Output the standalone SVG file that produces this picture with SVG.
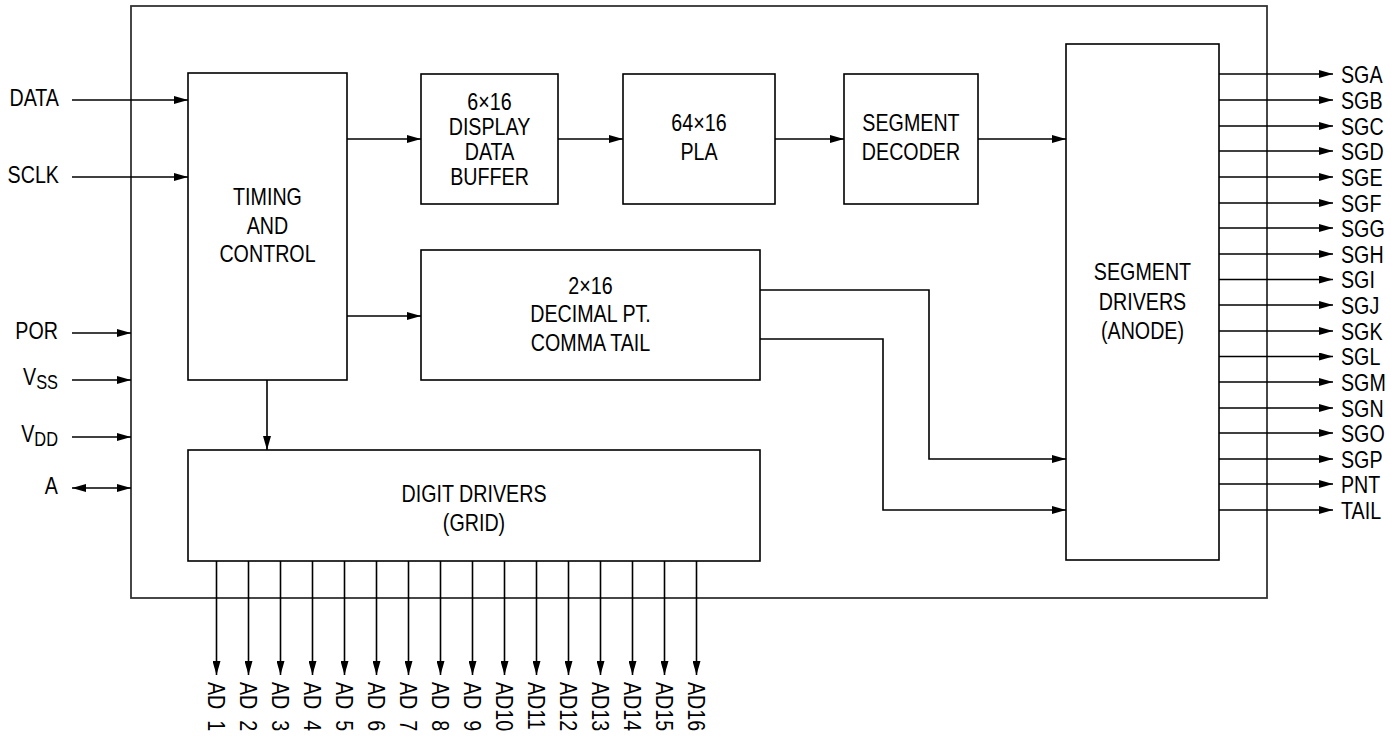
<svg xmlns="http://www.w3.org/2000/svg" width="1391" height="737" viewBox="0 0 1391 737">
<style>
.t{font-family:"Liberation Sans",Arial,sans-serif;font-size:24px;fill:#000}
.m{text-anchor:middle}
.e{text-anchor:end}
.b{fill:#fff;stroke:#000;stroke-width:1.6}
.w{fill:none;stroke:#000;stroke-width:1.6}
</style>
<defs>
<marker id="ah" markerUnits="userSpaceOnUse" markerWidth="14" markerHeight="8" refX="14" refY="4" orient="auto-start-reverse"><path d="M0,0 L14,4 L0,8 z" fill="#000"/></marker>
</defs>
<rect id="chip" x="131" y="6" width="1136" height="592" fill="none" stroke="#333" stroke-width="1.8"/>
<g id="timing"><rect class="b" x="188" y="73" width="159" height="307"/><text class="t m" transform="translate(267.5,205) scale(.82,1)">TIMING</text><text class="t m" transform="translate(267.5,233.5) scale(.82,1)">AND</text><text class="t m" transform="translate(267.5,262) scale(.82,1)">CONTROL</text></g>
<g id="buffer"><rect class="b" x="421" y="74" width="137" height="130"/><text class="t m" transform="translate(489.5,110) scale(.82,1)">6×16</text><text class="t m" transform="translate(489.5,135) scale(.82,1)">DISPLAY</text><text class="t m" transform="translate(489.5,160) scale(.82,1)">DATA</text><text class="t m" transform="translate(489.5,185) scale(.82,1)">BUFFER</text></g>
<g id="pla"><rect class="b" x="623" y="74" width="152" height="130"/><text class="t m" transform="translate(699,131) scale(.82,1)">64×16</text><text class="t m" transform="translate(699,160) scale(.82,1)">PLA</text></g>
<g id="decoder"><rect class="b" x="844" y="74" width="134" height="130"/><text class="t m" transform="translate(911,131) scale(.82,1)">SEGMENT</text><text class="t m" transform="translate(911,160) scale(.82,1)">DECODER</text></g>
<g id="decimal"><rect class="b" x="421" y="250" width="339" height="130"/><text class="t m" transform="translate(590.5,293.5) scale(.82,1)">2×16</text><text class="t m" transform="translate(590.5,322) scale(.82,1)">DECIMAL PT.</text><text class="t m" transform="translate(590.5,350.5) scale(.82,1)">COMMA TAIL</text></g>
<g id="digit"><rect class="b" x="188" y="450" width="572" height="111"/><text class="t m" transform="translate(474,502) scale(.82,1)">DIGIT DRIVERS</text><text class="t m" transform="translate(474,531) scale(.82,1)">(GRID)</text></g>
<g id="segdrv"><rect class="b" x="1066" y="44" width="153" height="516"/><text class="t m" transform="translate(1142.5,280) scale(.82,1)">SEGMENT</text><text class="t m" transform="translate(1142.5,309.5) scale(.82,1)">DRIVERS</text><text class="t m" transform="translate(1142.5,339) scale(.82,1)">(ANODE)</text></g>
<g id="inputs">
<text class="t e" transform="translate(59,106) scale(.82,1)">DATA</text>
<text class="t e" transform="translate(59,183) scale(.82,1)">SCLK</text>
<text class="t e" transform="translate(58,339) scale(.82,1)">POR</text>
<text class="t e" transform="translate(58,385) scale(.82,1)">V<tspan font-size="20" dy="4">SS</tspan></text>
<text class="t e" transform="translate(58,442) scale(.82,1)">V<tspan font-size="20" dy="4">DD</tspan></text>
<text class="t e" transform="translate(58,494) scale(.82,1)">A</text>
</g>
<g id="outputs">
<text class="t" transform="translate(1341,83) scale(.82,1)">SGA</text>
<text class="t" transform="translate(1341,108.5) scale(.82,1)">SGB</text>
<text class="t" transform="translate(1341,134.5) scale(.82,1)">SGC</text>
<text class="t" transform="translate(1341,159.5) scale(.82,1)">SGD</text>
<text class="t" transform="translate(1341,185.5) scale(.82,1)">SGE</text>
<text class="t" transform="translate(1341,211.5) scale(.82,1)">SGF</text>
<text class="t" transform="translate(1341,236.5) scale(.82,1)">SGG</text>
<text class="t" transform="translate(1341,262.5) scale(.82,1)">SGH</text>
<text class="t" transform="translate(1341,288) scale(.82,1)">SGI</text>
<text class="t" transform="translate(1341,313.5) scale(.82,1)">SGJ</text>
<text class="t" transform="translate(1341,339.5) scale(.82,1)">SGK</text>
<text class="t" transform="translate(1341,365) scale(.82,1)">SGL</text>
<text class="t" transform="translate(1341,390.5) scale(.82,1)">SGM</text>
<text class="t" transform="translate(1341,416.5) scale(.82,1)">SGN</text>
<text class="t" transform="translate(1341,441.5) scale(.82,1)">SGO</text>
<text class="t" transform="translate(1341,467.5) scale(.82,1)">SGP</text>
<text class="t" transform="translate(1341,492.5) scale(.82,1)">PNT</text>
<text class="t" transform="translate(1341,518.5) scale(.82,1)">TAIL</text>
</g>
<g id="adlabels">
<text class="t" transform="translate(216.5,682) rotate(90) scale(.82,1)" y="8.5">AD <tspan x="46.7">1</tspan></text>
<text class="t" transform="translate(248.5,682) rotate(90) scale(.82,1)" y="8.5">AD <tspan x="46.7">2</tspan></text>
<text class="t" transform="translate(280.5,682) rotate(90) scale(.82,1)" y="8.5">AD <tspan x="46.7">3</tspan></text>
<text class="t" transform="translate(312.5,682) rotate(90) scale(.82,1)" y="8.5">AD <tspan x="46.7">4</tspan></text>
<text class="t" transform="translate(344.5,682) rotate(90) scale(.82,1)" y="8.5">AD <tspan x="46.7">5</tspan></text>
<text class="t" transform="translate(376.5,682) rotate(90) scale(.82,1)" y="8.5">AD <tspan x="46.7">6</tspan></text>
<text class="t" transform="translate(408.5,682) rotate(90) scale(.82,1)" y="8.5">AD <tspan x="46.7">7</tspan></text>
<text class="t" transform="translate(440.5,682) rotate(90) scale(.82,1)" y="8.5">AD <tspan x="46.7">8</tspan></text>
<text class="t" transform="translate(472.5,682) rotate(90) scale(.82,1)" y="8.5">AD <tspan x="46.7">9</tspan></text>
<text class="t" transform="translate(504.5,682) rotate(90) scale(.82,1)" y="8.5">AD10</text>
<text class="t" transform="translate(536.5,682) rotate(90) scale(.82,1)" y="8.5">AD11</text>
<text class="t" transform="translate(568.5,682) rotate(90) scale(.82,1)" y="8.5">AD12</text>
<text class="t" transform="translate(600.5,682) rotate(90) scale(.82,1)" y="8.5">AD13</text>
<text class="t" transform="translate(632.5,682) rotate(90) scale(.82,1)" y="8.5">AD14</text>
<text class="t" transform="translate(664.5,682) rotate(90) scale(.82,1)" y="8.5">AD15</text>
<text class="t" transform="translate(696.5,682) rotate(90) scale(.82,1)" y="8.5">AD16</text>
</g>
<g id="connectors" class="w" marker-end="url(#ah)">
<path d="M72,100 H188"/>
<path d="M72,177 H188"/>
<path d="M72,333 H131"/>
<path d="M72,380 H131"/>
<path d="M72,437 H131"/>
<path d="M72,488 H131" marker-start="url(#ah)"/>
<path d="M347,139 H421"/>
<path d="M558,139 H623"/>
<path d="M775,139 H844"/>
<path d="M978,139 H1066"/>
<path d="M347,316 H421"/>
<path d="M267,380 V450"/>
<path d="M760,290 H929 V459 H1066"/>
<path d="M760,339 H883 V510 H1066"/>
<path d="M1219,74 H1333"/>
<path d="M1219,100 H1333"/>
<path d="M1219,126 H1333"/>
<path d="M1219,151 H1333"/>
<path d="M1219,177 H1333"/>
<path d="M1219,203 H1333"/>
<path d="M1219,228 H1333"/>
<path d="M1219,254 H1333"/>
<path d="M1219,279.5 H1333"/>
<path d="M1219,305 H1333"/>
<path d="M1219,331 H1333"/>
<path d="M1219,356.5 H1333"/>
<path d="M1219,382 H1333"/>
<path d="M1219,408 H1333"/>
<path d="M1219,433 H1333"/>
<path d="M1219,459 H1333"/>
<path d="M1219,484 H1333"/>
<path d="M1219,510 H1333"/>
<path d="M216.5,561 V675"/>
<path d="M248.5,561 V675"/>
<path d="M280.5,561 V675"/>
<path d="M312.5,561 V675"/>
<path d="M344.5,561 V675"/>
<path d="M376.5,561 V675"/>
<path d="M408.5,561 V675"/>
<path d="M440.5,561 V675"/>
<path d="M472.5,561 V675"/>
<path d="M504.5,561 V675"/>
<path d="M536.5,561 V675"/>
<path d="M568.5,561 V675"/>
<path d="M600.5,561 V675"/>
<path d="M632.5,561 V675"/>
<path d="M664.5,561 V675"/>
<path d="M696.5,561 V675"/>
</g>
</svg>
